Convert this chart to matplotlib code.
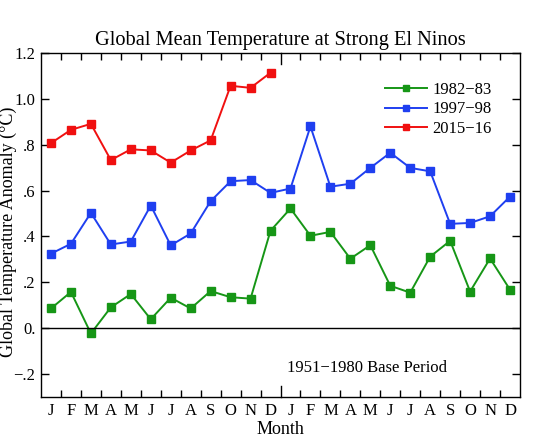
import matplotlib
matplotlib.use("Agg")
import matplotlib.pyplot as plt
import numpy as np

months = ["J", "F", "M", "A", "M", "J", "J", "A", "S", "O", "N", "D"]
month_labels = months + months

s1982 = [0.086, 0.158, -0.023, 0.091, 0.149, 0.039, 0.133, 0.086, 0.162, 0.135, 0.129, 0.425,
         0.522, 0.403, 0.420, 0.303, 0.362, 0.185, 0.155, 0.312, 0.381, 0.160, 0.304, 0.168]
s1997 = [0.325, 0.368, 0.503, 0.365, 0.378, 0.535, 0.361, 0.413, 0.554, 0.641, 0.646, 0.590,
         0.609, 0.880, 0.617, 0.630, 0.699, 0.765, 0.699, 0.684, 0.455, 0.459, 0.488, 0.574]
s2015 = [0.807, 0.865, 0.891, 0.733, 0.780, 0.775, 0.722, 0.775, 0.819, 1.057, 1.048, 1.114]

series_names = ["1982\u221283", "1997\u221298", "2015\u221216"]
series_colors = ["#169616", "#1f3ff0", "#f01010"]

yticks = [-0.2, 0.0, 0.2, 0.4, 0.6, 0.8, 1.0, 1.2]
ytick_labels = ["\u2212.2", "0.", ".2", ".4", ".6", ".8", "1.0", "1.2"]

plt.rcParams['font.family'] = ['Liberation Serif', 'DejaVu Serif']

fig = plt.figure(figsize=(5.48, 4.47), dpi=100)
ax = fig.add_axes([41/548, 1-397/447, (520-41)/548, (397-53)/447])

for data, name, col in zip([s1982, s1997, s2015], series_names, series_colors):
    x = np.arange(len(data)) + 0.5
    ax.plot(x, data, color=col, lw=1.4, marker='s', ms=6, label=name)

ax.axhline(0, color='black', lw=1.0)

ax.set_xlim(0, 24)
ax.set_ylim(-0.3, 1.2)
ax.set_yticks(yticks)
ax.set_yticklabels(ytick_labels, fontsize=12)
ax.set_xticks(np.arange(24) + 0.5)
ax.set_xticklabels(month_labels, fontsize=12)
ax.tick_params(axis='x', which='major', length=0, pad=4)
ax.set_xticks([i for i in range(1, 24) if i != 12], minor=True)
ax.tick_params(axis='x', which='minor', direction='in', length=5, top=True, bottom=True, width=1)
ax.tick_params(axis='y', direction='in', length=6, left=True, right=True, width=1, pad=4)
# year separator ticks
ax.plot([12, 12], [-0.3, -0.25], color='black', lw=1, clip_on=False)
ax.plot([12, 12], [1.2, 1.15], color='black', lw=1, clip_on=False)

for sp in ax.spines.values():
    sp.set_linewidth(1)

ax.set_xlabel("Month", fontsize=13, labelpad=2)
fig.text(8/548, 1 - 232/447, "Global Temperature Anomaly (\u00b0C)", rotation=90,
         fontsize=13, ha='center', va='center')
ax.set_title("Global Mean Temperature at Strong El Ninos", fontsize=14.7, pad=6)

ax.text(0.513, 0.085, "1951\u22121980 Base Period", transform=ax.transAxes, fontsize=12, ha='left', va='center')

leg = ax.legend(loc='upper right', bbox_to_anchor=(0.955, 0.935), frameon=False, fontsize=12,
                handlelength=2.5, handletextpad=0.35, labelspacing=0.2, borderaxespad=0,
                markerscale=0.8)

fig.savefig("out.png", dpi=100)
